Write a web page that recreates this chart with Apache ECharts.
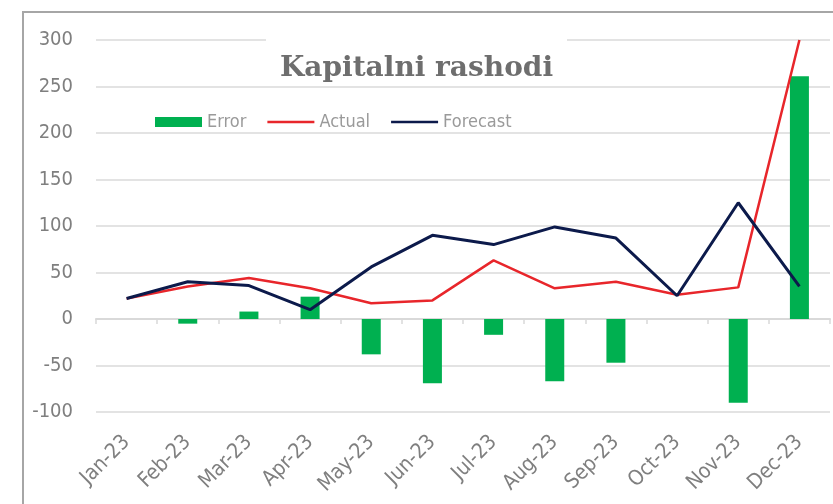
<!DOCTYPE html>
<html>
<head>
<meta charset="utf-8">
<script src="https://cdn.jsdelivr.net/npm/echarts@6/dist/echarts.min.js"></script>
<style>
  html, body { margin: 0; padding: 0; background: #fff; }
  #chart { width: 833px; height: 504px; }
</style>
</head>
<body>
<div id="chart"></div>
<script>
const categories = ['Jan-23', 'Feb-23', 'Mar-23', 'Apr-23', 'May-23', 'Jun-23',
  'Jul-23', 'Aug-23', 'Sep-23', 'Oct-23', 'Nov-23', 'Dec-23']
const errorValues = [0, -5, 8, 24, -38, -69, -17, -67, -47, 0, -90, 261]
const actualValues = [22, 35, 44, 33, 17, 20, 63, 33, 40, 26, 34, 300]
const forecastValues = [22, 40, 36, 10, 56, 90, 80, 99, 87, 25, 125, 35]

const labelFont = "'Liberation Sans Narrow', 'DejaVu Sans Condensed', 'Liberation Sans', sans-serif"
const textGray = '#7f7f7f'
// thin line icon for the legend, the M points only fix the box
const lineIcon = 'path://M0,0 M0,10 M0,3.8 H47 V6.2 H0 Z'

const chart = echarts.init(document.getElementById('chart'), null, { renderer: 'canvas' })

chart.setOption({
  animation: false,
  backgroundColor: '#fff',
  graphic: [
    {
      type: 'rect',
      shape: { x: 23, y: 12, width: 900, height: 600 },
      style: { fill: 'none', stroke: '#a6a6a6', lineWidth: 2 },
      z: 100,
    },
  ],
  title: {
    text: 'Kapitalni rashodi',
    left: 'center',
    top: 34,
    padding: [21, 14, 1, 14],
    backgroundColor: '#fff',
    textStyle: {
      fontFamily: "'DejaVu Serif', serif",
      fontWeight: 'bold',
      fontSize: 28,
      color: '#6e6e6e',
    },
  },
  legend: {
    left: 155,
    top: 113,
    padding: 0,
    itemWidth: 47,
    itemHeight: 10,
    itemGap: 21,
    textStyle: { fontFamily: labelFont, fontSize: 18, color: '#9a9a9a' },
    data: [
      { name: 'Error', icon: 'rect' },
      { name: 'Actual', icon: lineIcon },
      { name: 'Forecast', icon: lineIcon },
    ],
  },
  grid: { left: 96, right: 3, top: 40, bottom: 92, containLabel: false, outerBoundsMode: 'none' },
  xAxis: [
    {
      // labels sit at the bottom of the plot, like Excel's "low" position
      type: 'category',
      data: categories,
      position: 'bottom',
      axisLine: { show: false, onZero: false },
      axisTick: { show: false },
      axisLabel: {
        rotate: 45,
        margin: 27,
        interval: 0,
        fontFamily: labelFont,
        fontSize: 21,
        color: textGray,
      },
      splitLine: { show: false },
    },
    {
      // the zero line with its tick marks
      type: 'category',
      data: categories,
      position: 'top',
      axisLine: { show: true, onZero: true, lineStyle: { color: '#d9d9d9', width: 2 } },
      axisTick: { show: true, inside: true, alignWithLabel: false, length: 5, lineStyle: { color: '#d9d9d9', width: 1.5 } },
      axisLabel: { show: false },
      splitLine: { show: false },
    },
  ],
  yAxis: {
    type: 'value',
    min: -100,
    max: 300,
    interval: 50,
    axisLine: { show: false },
    axisTick: { show: false },
    axisLabel: { margin: 23, fontFamily: labelFont, fontSize: 20, color: textGray },
    splitLine: { lineStyle: { color: '#e3e3e3', width: 2 } },
  },
  series: [
    {
      name: 'Error',
      type: 'bar',
      data: errorValues,
      barWidth: 19,
      itemStyle: { color: '#00b050' },
    },
    {
      name: 'Actual',
      type: 'line',
      data: actualValues,
      symbol: 'none',
      lineStyle: { color: '#e8262b', width: 2.5 },
      itemStyle: { color: '#e8262b' },
      z: 3,
    },
    {
      name: 'Forecast',
      type: 'line',
      data: forecastValues,
      symbol: 'none',
      lineStyle: { color: '#0c1a4b', width: 3 },
      itemStyle: { color: '#0c1a4b' },
      z: 4,
    },
  ],
})
</script>
</body>
</html>
